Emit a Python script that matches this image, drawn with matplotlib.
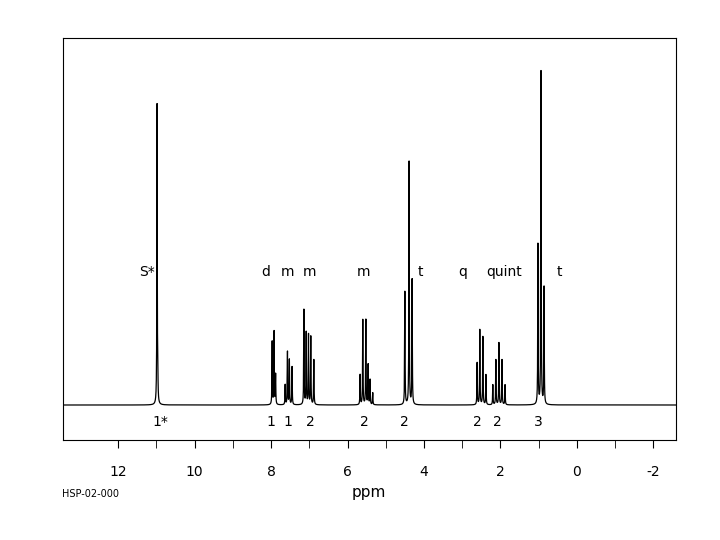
import matplotlib
matplotlib.use("Agg")
import matplotlib.pyplot as plt
import numpy as np

# peak positions (ppm) and heights (arbitrary, baseline = 0)
peak_ppm = [10.98, 10.96,
            7.97, 7.92, 7.88,
            7.63, 7.57, 7.52, 7.45,
            7.14, 7.08, 7.02, 6.96, 6.88,
            5.67, 5.60, 5.52, 5.46, 5.41, 5.34,
            4.50, 4.39, 4.31,
            2.61, 2.54, 2.46, 2.38,
            2.20, 2.12, 2.04, 1.96, 1.88,
            1.02, 0.94, 0.86]
peak_height = [300, 20,
               63, 73, 30,
               20, 53, 45, 38,
               95, 72, 70, 68, 45,
               30, 85, 85, 40, 25, 12,
               113, 243, 125,
               42, 75, 68, 30,
               20, 45, 62, 45, 20,
               160, 333, 117]
peak_width = 0.006

labels_mult = ["S*", "d", "m", "m", "m", "t", "q", "quint", "t"]
labels_mult_ppm = [11.24, 8.13, 7.58, 7.0, 5.57, 4.1, 2.98, 1.91, 0.47]
labels_int = ["1*", "1", "1", "2", "2", "2", "2", "2", "3"]
labels_int_ppm = [10.9, 8.0, 7.56, 6.98, 5.57, 4.5, 2.61, 2.09, 1.0]

x = np.linspace(-2.6, 13.45, 40000)
y = np.zeros_like(x)
for p, h in zip(peak_ppm, peak_height):
    y += h / (1 + ((x - p) / peak_width) ** 2)

fig = plt.figure(figsize=(7.2, 5.4), dpi=100)
ax = fig.add_axes([63/720, 100/540, 613/720, 402/540])
ax.plot(x, y, color="black", lw=0.9)
ax.set_xlim(13.44, -2.59)
ax.set_ylim(-35, 367)
ax.set_yticks([])
ax.set_xticks(np.arange(-2, 13, 2))
ax.set_xticks(np.arange(-1, 13, 2), minor=True)
ax.set_xticklabels([str(v) for v in range(-2, 13, 2)], fontsize=10)
ax.tick_params(axis="x", direction="out", length=6, pad=12)
ax.tick_params(axis="x", which="minor", direction="out", length=6)
for s in ax.spines.values():
    s.set_linewidth(0.8)

for t, p in zip(labels_mult, labels_mult_ppm):
    ax.text(p, 133, t, ha="center", va="center", fontsize=10)
for t, p in zip(labels_int, labels_int_ppm):
    ax.text(p, -17, t, ha="center", va="center", fontsize=10)

fig.text(369/720, 1 - 493/540, "ppm", ha="center", va="center", fontsize=11)
fig.text(62/720, 1 - 494/540, "HSP-02-000", ha="left", va="center", fontsize=7)
fig.savefig("out.png", dpi=100)
